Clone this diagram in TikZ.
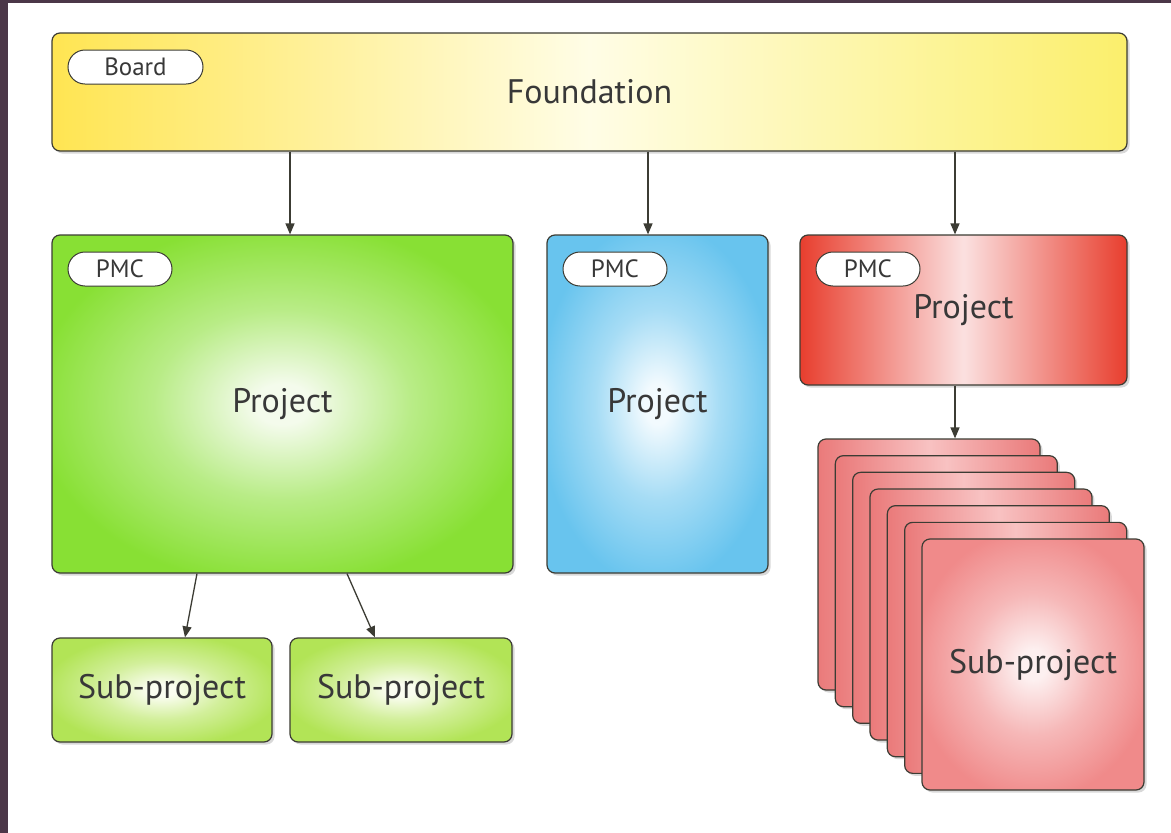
\documentclass[tikz,border=0pt]{standalone}
\usepackage{fontspec}
\setmainfont{PT Sans}
\usetikzlibrary{arrows.meta,shapes.misc,shadows}

\definecolor{edge}{HTML}{3C3C34}
\definecolor{ink}{HTML}{383838}
\definecolor{frame}{HTML}{4B3748}
\colorlet{glowin}{white}
\colorlet{glowout}{white}

% soft radial fill, colours set per box
\pgfdeclareradialshading[glowin,glowout]{glow}{\pgfpoint{0bp}{0bp}}{color(0bp)=(glowin); color(3bp)=(glowin); color(14bp)=(glowin!45!glowout); color(27bp)=(glowout); color(50bp)=(glowout)}

\tikzset{
  box/.style={draw=edge,line width=1.2pt,rounded corners=8pt,text=ink,inner sep=0pt,
    font=\fontsize{34}{40}\selectfont,
    drop shadow={shadow xshift=2.5pt,shadow yshift=-2.5pt,opacity=.3}},
  glowfill/.style 2 args={shading=glow,/utils/exec={\colorlet{glowin}{#1}\colorlet{glowout}{#2}}},
  tag/.style={rounded rectangle,draw=edge,line width=1pt,fill=white,text=ink,inner sep=0pt,
    minimum width=104pt,minimum height=34pt,font=\fontsize{25}{28}\selectfont},
  arr/.style={draw=edge,line width=1.3pt,-{Triangle[length=11pt,width=9pt]}},
}
\definecolor{yelA}{HTML}{FFE552}
\definecolor{yelB}{HTML}{FFFDE6}
\definecolor{yelC}{HTML}{FBEF6C}
\definecolor{grnA}{HTML}{F4FBEC}
\definecolor{grnB}{HTML}{88E034}
\definecolor{bluA}{HTML}{F2FAFE}
\definecolor{bluB}{HTML}{68C4EE}
\definecolor{redA}{HTML}{E83E2E}
\definecolor{redB}{HTML}{FBE0E0}
\definecolor{limA}{HTML}{FAFDF0}
\definecolor{limB}{HTML}{B2E456}
\definecolor{pnkA}{HTML}{EA7A7A}
\definecolor{pnkB}{HTML}{F8C2C2}
\definecolor{pnkC}{HTML}{FDF0F0}
\definecolor{pnkD}{HTML}{F08A8A}

\begin{document}
\begin{tikzpicture}[x=1pt,y=-1pt]
\path[use as bounding box,fill=white] (0,0) rectangle (1171,833);
\fill[frame] (0,0) rectangle (1171,3);
\fill[frame] (0,0) rectangle (8,833);

% top level
\node[box,left color=yelA,right color=yelC,middle color=yelB,
  minimum width=1075pt,minimum height=118pt] (found) at (589.5,92) {Foundation};
\node[tag,minimum width=135pt] (board) at (135.5,67) {Board};

% projects
\node[box,glowfill={grnA}{grnB},minimum width=461pt,minimum height=338pt] (green) at (282.5,404) {Project};
\node[box,glowfill={bluA}{bluB},minimum width=221pt,minimum height=338pt] (blue) at (657.5,404) {Project};
\node[box,left color=redA,right color=redA,middle color=redB,minimum width=327pt,minimum height=150pt] (red) at (963.5,310) {Project};
\node[tag] (pmcg) at (120,269) {PMC};
\node[tag] (pmcb) at (615,269) {PMC};
\node[tag] (pmcr) at (868,269) {PMC};

% sub-projects
\node[box,glowfill={limA}{limB},minimum width=220pt,minimum height=104pt] (subA) at (162,690) {Sub-project};
\node[box,glowfill={limA}{limB},minimum width=222pt,minimum height=104pt] (subB) at (401,690) {Sub-project};
\foreach \i in {0,...,5}
  \node[box,left color=pnkA,right color=pnkA,middle color=pnkB,minimum width=222pt,minimum height=251pt] (card\i) at ({929+17.33*\i},{564.5+16.67*\i}) {};
\node[box,glowfill={pnkC}{pnkD},minimum width=222pt,minimum height=251pt] (card6) at (1033,664.5) {Sub-project};

% arrows
\draw[arr] ([xshift=7.5pt]green.north |- found.south) -- ([xshift=7.5pt]green.north);
\draw[arr] ([xshift=-9.5pt]blue.north |- found.south) -- ([xshift=-9.5pt]blue.north);
\draw[arr] ([xshift=-8.5pt]red.north |- found.south) -- ([xshift=-8.5pt]red.north);
\draw[arr] ([xshift=-85.5pt]green.south) -- ([xshift=23pt]subA.north);
\draw[arr] ([xshift=64.5pt]green.south) -- ([xshift=-26pt]subB.north);
\draw[arr] ([xshift=-8.5pt]red.south) -- ([xshift=-8.5pt]red.south |- card0.north);
\end{tikzpicture}
\end{document}
